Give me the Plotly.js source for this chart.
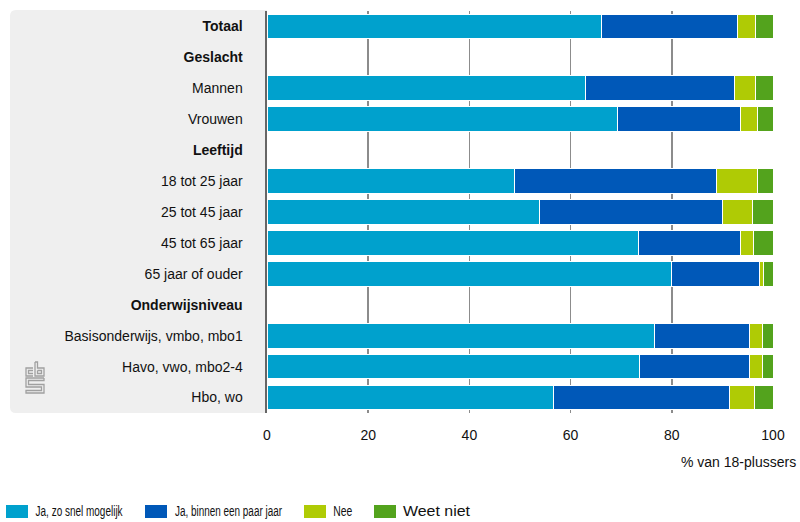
<!DOCTYPE html>
<html>
<head>
<meta charset="utf-8">
<script src="https://cdn.plot.ly/plotly-3.0.1.min.js"></script>
<style>html,body{margin:0;padding:0;background:#fff;}#chart{width:800px;height:522px;}</style>
</head>
<body>
<div id="chart"></div>
<script>
var categories = ["<b>Totaal</b>", "<b>Geslacht</b>", "Mannen", "Vrouwen", "<b>Leeftijd</b>",
  "18 tot 25 jaar", "25 tot 45 jaar", "45 tot 65 jaar", "65 jaar of ouder",
  "<b>Onderwijsniveau</b>", "Basisonderwijs, vmbo, mbo1", "Havo, vwo, mbo2-4", "Hbo, wo"];
var seriesNames = ["Ja, zo snel mogelijk", "Ja, binnen een paar jaar", "Nee", "Weet niet"];
var zoSnel   = [66.1, null, 63.0, 69.2, null, 48.9, 53.8, 73.4, 80.0, null, 76.6, 73.6, 56.7];
var binnen   = [26.8, null, 29.4, 24.3, null, 39.9, 36.2, 20.1, 17.3, null, 18.7, 21.7, 34.7];
var nee      = [3.6,  null, 4.1,  3.4,  null, 8.1,  5.9,  2.6,  0.8,  null, 2.6,  2.6,  4.9];
var weetNiet = [3.5,  null, 3.5,  3.1,  null, 3.1,  4.1,  3.9,  1.9,  null, 2.1,  2.1,  3.7];
var xTicks = [0, 20, 40, 60, 80, 100];
var xTitle = "% van 18-plussers";

var colors = ["#00a1cd", "#0058b8", "#afcb05", "#53a31d"];
var values = [zoSnel, binnen, nee, weetNiet];
var FONT = "'Liberation Sans', Arial, sans-serif";

var traces = values.map(function (v, i) {
  return {
    type: "bar", orientation: "h", y: categories, x: v, name: seriesNames[i],
    marker: {color: colors[i], line: {color: "#ffffff", width: 1}},
    width: 0.8, showlegend: false, hoverinfo: "x+y"
  };
});

// plot geometry in pixels
var L = 267, R = 27, T = 11, B = 109, W = 800, H = 522;
var pw = W - L - R, ph = H - T - B;
function px(x) { return (x - L) / pw; }
function py(y) { return (H - B - y) / ph; }

var shapes = [];
// grey panel behind labels (rounded)
(function () {
  var x0 = 10, x1 = 267, y0 = 10, y1 = 413, r = 6;
  var p = "M" + px(x0 + r) + "," + py(y0) + " L" + px(x1) + "," + py(y0) + " L" + px(x1) + "," + py(y1) +
    " L" + px(x0 + r) + "," + py(y1) + " Q" + px(x0) + "," + py(y1) + " " + px(x0) + "," + py(y1 - r) +
    " L" + px(x0) + "," + py(y0 + r) + " Q" + px(x0) + "," + py(y0) + " " + px(x0 + r) + "," + py(y0) + " Z";
  shapes.push({type: "path", xref: "paper", yref: "paper", path: p, fillcolor: "#efefef", line: {width: 0}, layer: "below"});
})();
// cbs logo (outline glyphs)
function seg(pts) {
  return "M" + pts.map(function (q) { return px(q[0]) + "," + py(q[1]); }).join(" L");
}
var logoLine = {color: "#a0a0a0", width: 1.3};
shapes.push({type: "path", xref: "paper", yref: "paper", line: logoLine,
  path: seg([[33, 368], [26, 368], [26, 376], [33, 376]]) + " " + seg([[33, 370.5], [28.5, 370.5], [28.5, 373.5], [33, 373.5]])});
shapes.push({type: "path", xref: "paper", yref: "paper", line: logoLine,
  path: seg([[35, 362], [37.5, 362], [37.5, 368], [44, 368], [44, 376], [35, 376], [35, 362]]) + " " + seg([[37.5, 370.5], [41.5, 370.5], [41.5, 373.5], [37.5, 373.5], [37.5, 370.5]])});
shapes.push({type: "path", xref: "paper", yref: "paper", line: logoLine,
  path: seg([[44, 378], [26, 378], [26, 387], [41.5, 387], [41.5, 390.5], [26, 390.5], [26, 393], [44, 393], [44, 384.5], [28.5, 384.5], [28.5, 380.5], [44, 380.5], [44, 378]])});

var annotations = [{
  xref: "paper", yref: "paper", x: px(798), y: py(462), xanchor: "right", yanchor: "middle",
  text: xTitle, showarrow: false, font: {family: FONT, size: 14, color: "#111"}
}];

// legend (custom, bottom); text condensed to match the narrow reference typeface
var legX = [6, 145, 304, 374];
var legTextX = [36, 175, 333, 403];
var legTextW = [87, 107, 19, 67];
seriesNames.forEach(function (n, i) {
  shapes.push({type: "rect", xref: "paper", yref: "paper", x0: px(legX[i]), x1: px(legX[i] + 22),
    y0: py(505), y1: py(518), fillcolor: colors[i], line: {width: 0}});
  annotations.push({xref: "paper", yref: "paper", x: px(legTextX[i] + legTextW[i] / 2), y: py(511.5),
    xanchor: "center", yanchor: "middle",
    text: n, showarrow: false, font: {family: FONT, size: 14, color: "#111"}});
});

var layout = {
  width: W, height: H,
  margin: {l: L, r: R, t: T, b: B, pad: 0},
  paper_bgcolor: "#ffffff", plot_bgcolor: "rgba(0,0,0,0)",
  barmode: "stack", bargap: 0.2,
  font: {family: FONT, size: 14, color: "#111"},
  xaxis: {
    range: [0, 100], tickvals: xTicks, ticktext: xTicks.map(String),
    showgrid: true, gridcolor: "#8c8c8c", gridwidth: 1.5, zeroline: false,
    showline: false, ticks: "", ticklabelstandoff: 12, fixedrange: true,
    tickfont: {family: FONT, size: 14, color: "#111"}
  },
  yaxis: {
    type: "category", categoryorder: "array", categoryarray: categories,
    autorange: "reversed", showgrid: false, zeroline: false,
    showline: true, linecolor: "#666666", linewidth: 2.5, ticks: "",
    ticklabelstandoff: 19, tickfont: {family: FONT, size: 14, color: "#111"}, fixedrange: true
  },
  shapes: shapes, annotations: annotations, showlegend: false
};

Plotly.newPlot("chart", traces, layout, {staticPlot: true, displayModeBar: false}).then(function (gd) {
  var texts = gd.querySelectorAll("g.annotation text.annotation-text");
  texts.forEach(function (t) {
    var idx = seriesNames.indexOf(t.textContent);
    if (idx >= 0) {
      t.setAttribute("textLength", legTextW[idx]);
      t.setAttribute("lengthAdjust", "spacingAndGlyphs");
    }
  });
});
</script>
</body>
</html>
